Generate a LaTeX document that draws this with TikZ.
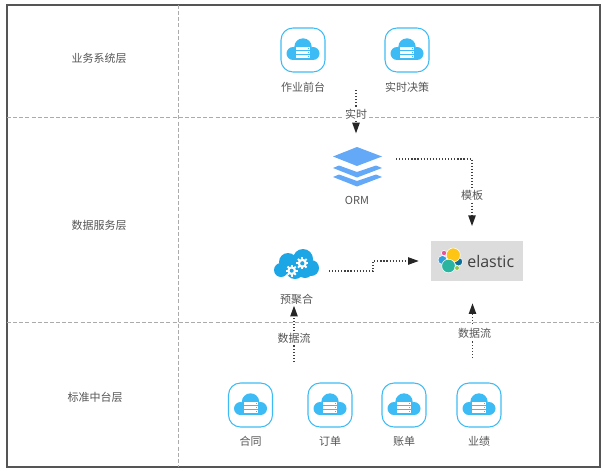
\documentclass[tikz,border=0pt]{standalone}
\usepackage{fontspec}
\setmainfont{Noto Sans CJK SC}
\newfontfamily\logofont{Open Sans}
\usepackage{tikz}
\usetikzlibrary{arrows.meta,calc,positioning}
\definecolor{framegray}{HTML}{555555}
\definecolor{dashgray}{HTML}{ABABAB}
\definecolor{textgray}{HTML}{555555}
\definecolor{iconblue}{HTML}{3DBBF5}
\definecolor{gearblue}{HTML}{1CA6E6}
\definecolor{layerblue}{HTML}{64A8F8}
\definecolor{logogray}{HTML}{DCDCDC}
\definecolor{logoyellow}{HTML}{FEC514}
\definecolor{logoteal}{HTML}{2BB5A0}
\definecolor{logopink}{HTML}{E8559A}
\definecolor{logoblue}{HTML}{2F9FDC}
\definecolor{logonavy}{HTML}{0F6E98}
\definecolor{logogreen}{HTML}{93C83E}
\tikzset{
  layerline/.style={dashed,color=dashgray,line width=0.75pt,dash pattern=on 3pt off 1.6pt},
  txt/.style={font=\fontsize{8.25}{10}\selectfont,text=textgray,inner sep=1pt},
  iconbox/.style={draw=iconblue,line width=0.8pt,rounded corners=9pt,minimum size=33pt,inner sep=0pt},
  flow/.style={line width=1pt,color=black!75,dash pattern=on 0.9pt off 1.4pt,
    -{Triangle[length=8pt,width=5.5pt,color=black!85,sep=0pt]}},
  midlabel/.style={txt,fill=white,inner sep=1.5pt},
  logoblob/.style={draw=white,line width=0.4pt},
  cloudicon/.pic={
    \fill[iconblue] (0,-3) circle (8.7);
    \fill[iconblue] (-10,3.5) circle (6.5);
    \fill[iconblue] (10,3.5) circle (6.5);
    \fill[iconblue] (-10,-1) rectangle (10,10);
    \foreach \yy in {-1.5,2.5,6.5}{
      \fill[white] (-7,\yy-1.6) rectangle (7,\yy+1.6);
      \fill[iconblue] (5,\yy-.5) rectangle (6,\yy+.5);
    }
  },
  gearwheel/.pic={
    \fill[white] (0,0) circle (4.4);
    \foreach \aa in {0,45,...,315}{
      \draw[white,line width=1.4pt] (\aa:3.5) -- (\aa:5.8);
    }
    \fill[gearblue] (0,0) circle (2);
  }
}
\begin{document}
\begin{tikzpicture}[x=0.75pt,y=-0.75pt]
\useasboundingbox (0,0) rectangle (605,474);
%%%%% frame and layers:
\draw[line width=1.3pt,color=framegray] (7,5) rectangle (600,467);
\draw[layerline] (7,117) -- (600,117);
\draw[layerline] (7,322) -- (600,322);
\draw[layerline] (178,5) -- (178,467);
\node[txt] (yewu) at (99,58) {业务系统层};
\node[txt] (shuju) at (99,225) {数据服务层};
\node[txt] (biaozhun) at (95,397) {标准中台层};
%%%%% upper icons:
\foreach \nm/\cx/\lbl in {qiantai/303/作业前台,juece/407/实时决策}{
  \node[iconbox] (\nm) at (\cx,50) {};
  \pic at (\cx,50) {cloudicon};
  \node[txt] (\nm label) at (\cx,87) {\lbl};
}
%%%%% lower icons:
\foreach \nm/\cx/\lbl in {hetong/250.5/合同,dingdan/330/订单,zhangdan/404/账单,yeji/479/业绩}{
  \node[iconbox] (\nm) at (\cx,405) {};
  \pic at (\cx,405) {cloudicon};
  \node[txt] (\nm label) at (\cx,441) {\lbl};
}
%%%%% layered ORM icon:
\node[minimum width=36.75pt,minimum height=30pt,inner sep=0pt] (orm) at (357,167) {};
\foreach \yy in {177,168}{
  \fill[layerblue] (333,\yy) -- (339,\yy-2.5) -- (357,\yy+4) -- (376,\yy-2.5) -- (382,\yy) -- (357,\yy+9.5) -- cycle;
}
\fill[layerblue] (333,156.5) -- (357,147) -- (382,156.5) -- (357,166) -- cycle;
\node[txt] (ormlabel) at (357,200) {ORM};
%%%%% cloud with two gears:
\node[minimum width=34pt,minimum height=22pt,inner sep=0pt] (juhe) at (296,264) {};
\foreach \cx/\cy/\rr in {303/259/10,288/262/9,281/270/7,311/268/8,295/270/9,305/270/8}{
  \fill[gearblue] (\cx,\cy) circle (\rr);
}
\pic at (291.7,270.7) {gearwheel};
\pic[scale=1.05] at (302.3,263.3) {gearwheel};
\node[txt] (juhelabel) at (296.5,299) {预聚合};
%%%%% elastic logo:
\node[fill=logogray,minimum width=69pt,minimum height=30pt,inner sep=0pt] (elastic) at (477,261) {};
\fill[logoblob,fill=logoblue] (442.5,260) circle (4.5);
\fill[logoblob,fill=logonavy] (458.5,261.7) circle (4.2);
\fill[logoblob,fill=logopink] (444,253) circle (2.6);
\fill[logoblob,fill=logoyellow] (453.3,255) circle (7);
\fill[logoblob,fill=logoteal] (448.5,266) circle (6.8);
\fill[logoblob,fill=logogreen] (457,268) circle (2.4);
\node[font=\logofont\fontsize{12}{14}\selectfont,text=black!75,inner sep=0pt,anchor=west] (elastictext) at (467,261) {elastic};
%%%%% connectors:
\coordinate (rtstart) at (356,90);
\coordinate (ormout) at (396,159);
\coordinate (juheout) at (329,271);
\coordinate (liuleft) at (294,362);
\coordinate (liuright) at (472.5,358);
\draw[flow,shorten >=10pt] (rtstart) -- (rtstart|-orm.north) node[midlabel,pos=.42] (shishi) {实时};
\draw[flow,shorten >=11pt] (ormout) -| ([xshift=-3.75pt]elastic.north) node[midlabel,pos=.72] (muban) {模板};
\draw[flow,shorten >=9pt] (juheout) -- ++(44,0) |- (elastic.west);
\draw[flow] (liuleft) -- (liuleft|-juhelabel.south) node[midlabel,pos=.42] (liul) {数据流};
\draw[flow,shorten >=16.5pt] (liuright) -- (liuright|-elastic.south) node[midlabel,pos=.32,xshift=1.5pt] (liur) {数据流};
\end{tikzpicture}
\end{document}
